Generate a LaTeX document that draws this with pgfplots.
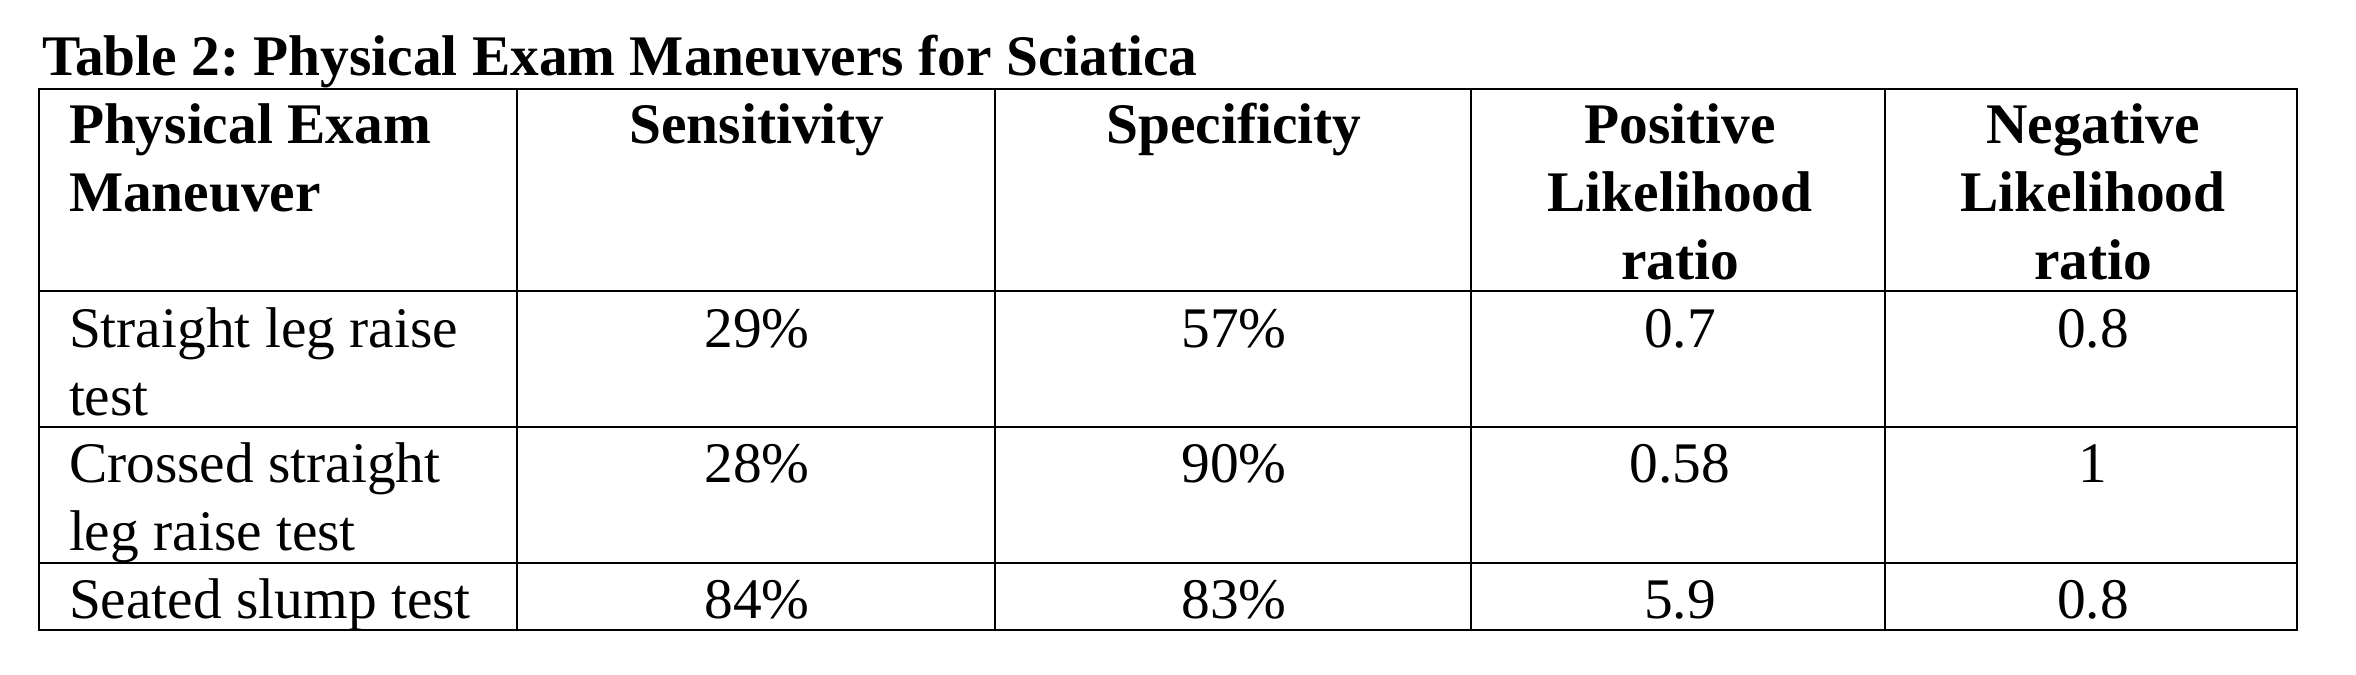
\documentclass[border=0pt]{standalone}
\usepackage{fontspec}
\setmainfont{Liberation Serif}
\usepackage{pgfplots}
\pgfplotsset{compat=1.18}
\frenchspacing
\begin{document}
\frenchspacing
\begin{tikzpicture}
\begin{axis}[
  at={(0,0)}, anchor=south west,
  scale only axis, width=471.2pt, height=134.8pt,
  xmin=0, xmax=2356, ymin=0, ymax=674, y dir=reverse,
  hide axis, clip=false,
  every node near coord/.append style={inner sep=0pt, font=\fontsize{11.48}{13.6}\selectfont\frenchspacing},
]
% background (sets the page size)
\addplot[draw=none, fill=white] coordinates {(0,0) (2356,0) (2356,674) (0,674) (0,0)};
% table frame
\addplot[black, line width=0.45pt, line cap=rect, mark=none] coordinates {(39,89) (2297,89) (2297,630) (39,630) (39,89)};
% row rules
\addplot[black, line width=0.45pt, mark=none] coordinates {(39,291) (2297,291)};
\addplot[black, line width=0.45pt, mark=none] coordinates {(39,427) (2297,427)};
\addplot[black, line width=0.45pt, mark=none] coordinates {(39,563) (2297,563)};
% column rules
\addplot[black, line width=0.45pt, mark=none] coordinates {(517,89) (517,630)};
\addplot[black, line width=0.45pt, mark=none] coordinates {(995,89) (995,630)};
\addplot[black, line width=0.45pt, mark=none] coordinates {(1471,89) (1471,630)};
\addplot[black, line width=0.45pt, mark=none] coordinates {(1885,89) (1885,630)};
% title
\addplot[only marks, mark=none, point meta=explicit symbolic, nodes near coords,
  every node near coord/.append style={anchor=base west, font=\fontsize{11.48}{13.6}\selectfont\bfseries\frenchspacing}]
  coordinates {(41,76) [Table 2: Physical Exam Maneuvers for Sciatica]};
% header, left column
\addplot[only marks, mark=none, point meta=explicit symbolic, nodes near coords,
  every node near coord/.append style={anchor=base west, font=\fontsize{11.48}{13.6}\selectfont\bfseries}]
  coordinates {(68,143.5) [Physical Exam] (68,211.5) [Maneuver]};
% header, centred columns
\addplot[only marks, mark=none, point meta=explicit symbolic, nodes near coords,
  every node near coord/.append style={anchor=base, font=\fontsize{11.48}{13.6}\selectfont\bfseries}]
  coordinates {(757,143.5) [Sensitivity] (1234,143.5) [Specificity]
    (1680,143.5) [Positive] (1680,211.5) [Likelihood] (1680,279.5) [ratio]
    (2093,143.5) [Negative] (2093,211.5) [Likelihood] (2093,279.5) [ratio]};
% row labels
\addplot[only marks, mark=none, point meta=explicit symbolic, nodes near coords,
  every node near coord/.append style={anchor=base west}]
  coordinates {(68,347) [Straight leg raise] (68,415) [test]
    (68,482) [Crossed straight] (68,550) [leg raise test]
    (68,618.5) [Seated slump test]};
% sensitivity (%)
\addplot[only marks, mark=none, point meta=explicit symbolic, nodes near coords,
  every node near coord/.append style={anchor=base}]
  coordinates {(757,347) [29\%] (757,482) [28\%] (757,618.5) [84\%]};
% specificity (%)
\addplot[only marks, mark=none, point meta=explicit symbolic, nodes near coords,
  every node near coord/.append style={anchor=base}]
  coordinates {(1234,347) [57\%] (1234,482) [90\%] (1234,618.5) [83\%]};
% positive likelihood ratio
\addplot[only marks, mark=none, point meta=explicit symbolic, nodes near coords,
  every node near coord/.append style={anchor=base}]
  coordinates {(1680,347) [0.7] (1680,482) [0.58] (1680,618.5) [5.9]};
% negative likelihood ratio
\addplot[only marks, mark=none, point meta=explicit symbolic, nodes near coords,
  every node near coord/.append style={anchor=base}]
  coordinates {(2093,347) [0.8] (2093,482) [1] (2093,618.5) [0.8]};
\end{axis}
\end{tikzpicture}
\end{document}
